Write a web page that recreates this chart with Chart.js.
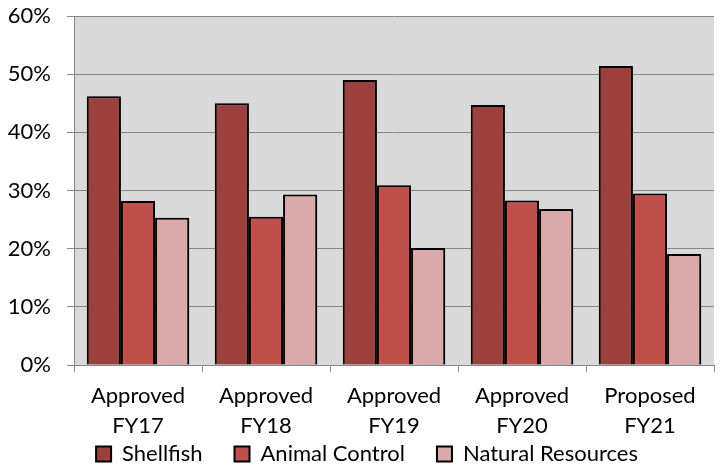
<!DOCTYPE html>
<html>
<head>
<meta charset="utf-8">
<script src="https://cdn.jsdelivr.net/npm/chart.js@4"></script>
<style>
  html, body { margin: 0; padding: 0; background: #ffffff; }
  canvas { display: block; }
</style>
</head>
<body>
<canvas id="chart" width="720" height="465"></canvas>
<script>
// Budget share by program, in percent
const categories = [
  ['Approved', 'FY17'],
  ['Approved', 'FY18'],
  ['Approved', 'FY19'],
  ['Approved', 'FY20'],
  ['Proposed', 'FY21']
];
const shellfish        = [46.2, 45.0, 49.0, 44.7, 51.4];
const animalControl    = [28.2, 25.5, 30.9, 28.3, 29.5];
const naturalResources = [25.3, 29.3, 20.1, 26.8, 19.1];
const yTicks = [0, 10, 20, 30, 40, 50, 60];

const FONT = 'Lato, "Open Sans", sans-serif';
const FONT_SIZE = 22;
const GRID = '#878787';

const LEGEND_PAD = 32;      // gap between legend entries
const LEGEND_CENTER = 454;  // vertical centre of the legend row
const LEGEND_SHIFT = 10;    // horizontal nudge of the legend row
const X_AXIS_HEIGHT = 100;  // category labels plus legend strip

// Grey fill behind the plotting area
const plotBackground = {
  id: 'plotBackground',
  beforeDraw(chart) {
    const { ctx, chartArea: a } = chart;
    ctx.save();
    ctx.fillStyle = '#d9d9d9';
    ctx.fillRect(a.left, a.top, a.right - a.left, a.bottom - a.top);
    ctx.restore();
  }
};

// Soft drop shadow under the bars
const barShadow = {
  id: 'barShadow',
  beforeDatasetsDraw(chart) {
    const ctx = chart.ctx;
    ctx.save();
    ctx.shadowColor = 'rgba(0,0,0,0.35)';
    ctx.shadowBlur = 4;
    ctx.shadowOffsetX = 2;
    ctx.shadowOffsetY = 2;
  },
  afterDatasetsDraw(chart) {
    chart.ctx.restore();
  }
};

// The legend row shares the strip under the axis with the category
// labels: it takes no layout height and is placed near the bottom edge.
const legendRow = {
  id: 'legendRow',
  beforeLayout(chart) {
    const lg = chart.legend;
    if (lg && !lg.__flat) {
      const update = lg.update;
      lg.update = function (...args) {
        update.apply(this, args);
        this.height = 0;
      };
      lg.__flat = true;
    }
  },
  afterLayout(chart) {
    const lg = chart.legend;
    if (lg) {
      const itemH = Math.max(FONT_SIZE, 15);
      const top = LEGEND_CENTER - LEGEND_PAD - itemH / 2;
      lg.top = top;
      lg.bottom = top + itemH + 2 * LEGEND_PAD;
      lg.left += LEGEND_SHIFT;
      lg.right += LEGEND_SHIFT;
    }
  }
};

new Chart(document.getElementById('chart'), {
  type: 'bar',
  data: {
    labels: categories,
    datasets: [
      { label: 'Shellfish', data: shellfish, backgroundColor: '#9c403d' },
      { label: 'Animal Control', data: animalControl, backgroundColor: '#c0504d' },
      { label: 'Natural Resources', data: naturalResources, backgroundColor: '#daa9a9' }
    ]
  },
  options: {
    responsive: false,
    animation: false,
    devicePixelRatio: 1,
    layout: { padding: { top: 16, right: 6, left: 0, bottom: 0 } },
    datasets: {
      bar: {
        borderColor: '#000000',
        borderWidth: 2,
        categoryPercentage: 0.8,
        barPercentage: 1.0
      }
    },
    plugins: {
      legend: {
        position: 'bottom',
        labels: {
          font: { family: FONT, size: FONT_SIZE },
          color: '#000000',
          boxWidth: 15,
          boxHeight: 15,
          padding: LEGEND_PAD
        }
      },
      tooltip: { enabled: false }
    },
    scales: {
      x: {
        grid: {
          offset: true,
          drawOnChartArea: false,
          drawTicks: true,
          tickLength: 7,
          color: GRID
        },
        border: { display: true, color: GRID, width: 1 },
        ticks: {
          font: { family: FONT, size: FONT_SIZE, lineHeight: 1.36 },
          color: '#000000',
          padding: 9,
          maxRotation: 0,
          autoSkip: false
        },
        afterFit(scale) {
          scale.height = X_AXIS_HEIGHT;
          scale.paddingLeft = 0;
          scale.paddingRight = 0;
        }
      },
      y: {
        min: 0,
        max: 60,
        afterBuildTicks(scale) {
          scale.ticks = yTicks.map(v => ({ value: v }));
        },
        grid: {
          color: GRID,
          lineWidth: 1,
          drawTicks: true,
          tickLength: 7
        },
        border: { display: true, color: GRID, width: 1 },
        ticks: {
          font: { family: FONT, size: FONT_SIZE },
          color: '#000000',
          padding: 16,
          callback: v => v + '%'
        },
        afterFit(scale) {
          scale.width = 74;
          scale.paddingTop = 0;
          scale.paddingBottom = 0;
        }
      }
    }
  },
  plugins: [plotBackground, barShadow, legendRow]
});
</script>
</body>
</html>
